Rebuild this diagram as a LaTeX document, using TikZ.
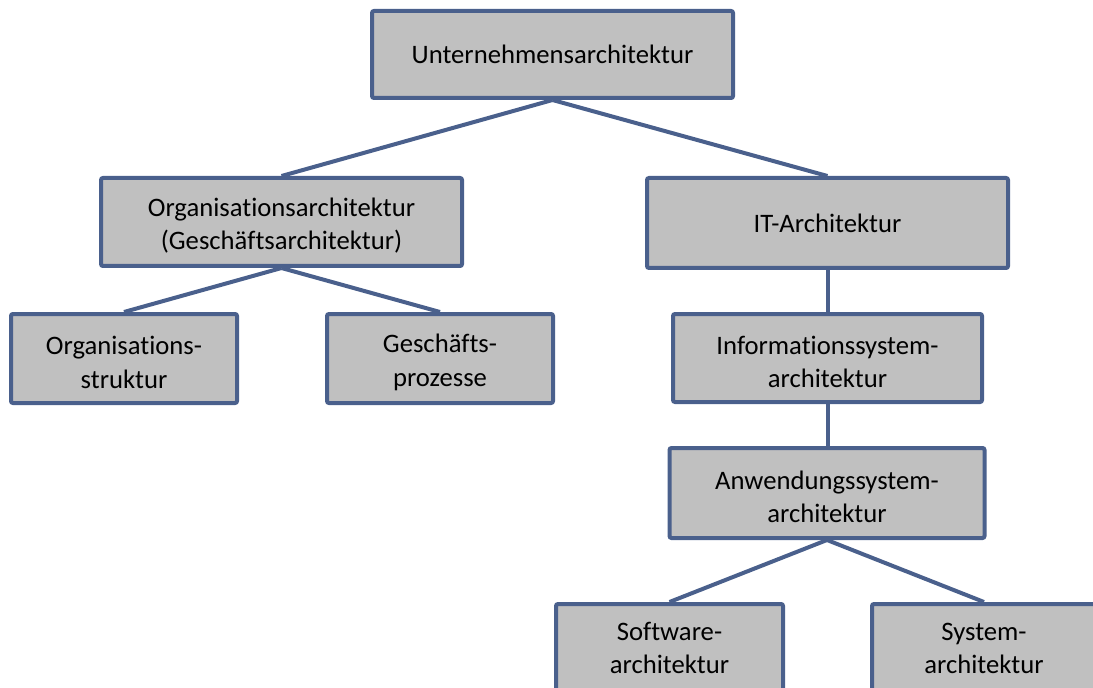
\documentclass[tikz,border=0pt]{standalone}
\usepackage{fontspec}
\setmainfont{Carlito}[Ligatures=NoCommon]
\definecolor{boxline}{RGB}{74,96,140}
\definecolor{boxfill}{RGB}{192,192,192}
% uniform top height for two-line labels
\newcommand\firstline{\rule{0pt}{19.5pt}}
% extra depth below the last line, lifting the label a little
\newcommand\lastline{\rule[-6pt]{0pt}{6pt}}
\begin{document}
\begin{tikzpicture}[x=0.75pt,y=-0.75pt,
  box/.style 2 args={draw=boxline, fill=boxfill, line width=3pt, rounded corners=1.5pt,
    inner sep=0pt, align=center, minimum width=0.75pt*#1, minimum height=0.75pt*#2,
    font=\fontsize{20}{25}\selectfont},
  link/.style={draw=boxline, line width=3pt}]
\useasboundingbox (0,0) rectangle (1093,688);
\begin{scope}
\clip (0,0) rectangle (1093,688);
% top level
\node[box={361}{87}] (ua) at (552.5,54.5) {Unternehmensarchitektur};
% second level
\node[box={361}{88}] (oa) at (281.5,222) {\firstline Organisationsarchitektur\\(Geschäftsarchitektur)};
\node[box={361}{90}] (it) at (827.5,223) {IT-Architektur};
% organisation branch
\node[box={226}{89}] (os) at (124,358.5) {\firstline Organisations-\\struktur};
\node[box={226}{89}] (gp) at (440,358.5) {\firstline Geschäfts-\\prozesse};
% IT branch
\node[box={309}{88}] (is) at (827.5,358) {\firstline Informationssystem-\\architektur};
\node[box={315}{90}] (as) at (827,493) {\firstline Anwendungssystem-\\architektur};
\node[box={227}{88}] (sw) at (669.5,648) {\firstline Software-\\architektur\lastline};
\node[box={224}{88}] (sy) at (984,648) {\firstline System-\\architektur\lastline};
% connectors
\draw[link] (ua.south) -- (oa.north);
\draw[link] (ua.south) -- (it.north);
\draw[link] (oa.south) -- (os.north);
\draw[link] (oa.south) -- (gp.north);
\draw[link] (it.south) -- (it.south |- is.north);
\draw[link] (is.south) -- (is.south |- as.north);
\draw[link] (as.south) -- (sw.north);
\draw[link] (as.south) -- (sy.north);
\end{scope}
\end{tikzpicture}
\end{document}
